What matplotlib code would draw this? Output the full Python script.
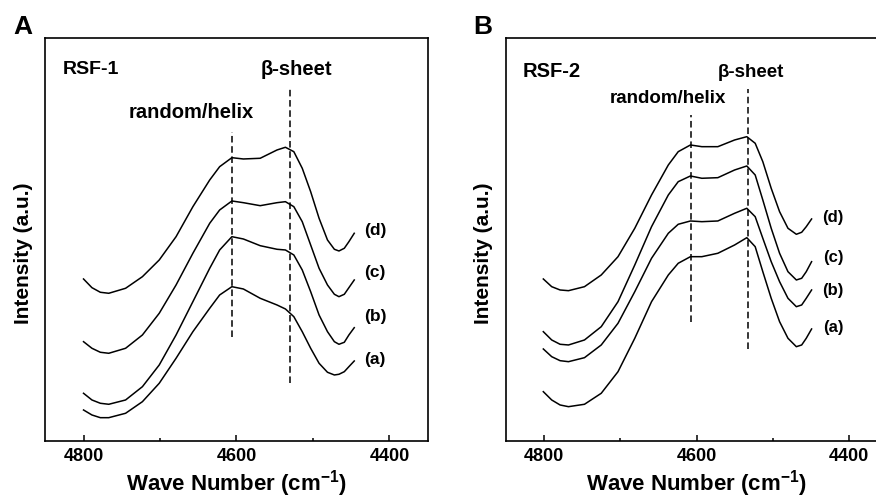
import matplotlib
matplotlib.use('Agg')
import matplotlib.pyplot as plt
from matplotlib.ticker import MultipleLocator

plt.rcParams['font.family'] = ['Liberation Sans', 'DejaVu Sans']
plt.rcParams['font.weight'] = 'bold'
plt.rcParams['mathtext.default'] = 'regular'

# wave numbers (cm-1) and intensities (a.u., offset curves)
wn_a = [4800, 4789, 4778, 4767, 4745, 4723, 4701, 4679, 4657, 4635, 4622, 4606, 4591,
        4569, 4547, 4536, 4525, 4514, 4503, 4492, 4481, 4472, 4466, 4459, 4453, 4446]
rsf1_a = [30.7, 25.7, 23, 23, 27.4, 39, 57.4, 82.4, 109, 132.4, 145.7, 154, 151.7,
          142.4, 135.7, 131.7, 124, 109, 92.4, 77.4, 68.4, 65.7, 66.4, 69, 74, 79.7]
rsf1_b = [47.4, 40.7, 37.4, 36.4, 40.7, 54, 75.7, 105.7, 139, 172.4, 190.7, 204, 201.7,
          195, 191.4, 190.7, 185.7, 170.7, 149, 125.7, 109, 99, 96.4, 98.4, 105.7, 113]
rsf1_c = [99, 92.4, 88.4, 87.4, 92.4, 105.7, 127.4, 155.7, 187.4, 217.4, 230.7, 239.7, 238,
          235, 238, 239, 234, 219, 195.7, 172.4, 155.7, 146.4, 144, 146.4, 153, 160.7]
rsf1_d = [161.7, 153, 148.4, 147.4, 152.4, 164, 180.7, 204, 234, 260.7, 274, 283, 281.7,
          282.4, 290.7, 293.4, 289, 272.4, 249, 222.4, 200.7, 191.4, 189.7, 192.4, 199, 207.4]

wn_b = [4801, 4790, 4779, 4768, 4747, 4725, 4703, 4681, 4659, 4637, 4624, 4608, 4593,
        4572, 4550, 4534, 4523, 4513, 4502, 4491, 4480, 4469, 4462, 4456, 4449]
rsf2_a = [49, 40.7, 35.7, 34, 36.4, 47.4, 69, 102.4, 139, 165.7, 177.4, 184, 184,
          187.4, 195.7, 203, 194, 169, 142.4, 119, 102.4, 94, 95.7, 102.4, 111.7]
rsf2_b = [91.7, 84, 80, 79, 83, 95.7, 117.4, 149, 182.4, 207.4, 216.4, 219.7, 219,
          219.7, 227.4, 232.4, 224, 202.4, 179, 159, 142.4, 134, 135.7, 142.4, 150.7]
rsf2_c = [109, 100.7, 96.4, 95.7, 100.7, 114, 139, 175.7, 214, 245.7, 259, 264.7, 262.4,
          263, 270.7, 274.7, 265.7, 240.7, 212.4, 187.4, 169, 160.7, 162.4, 169, 179]
rsf2_d = [161.7, 154, 150.7, 150, 154, 165.7, 184, 212.4, 245.7, 275.7, 289, 295.7, 294,
          294, 300.7, 304, 297.4, 279, 252.4, 229, 212.4, 206.4, 208.4, 214, 221.7]

curve_names = ['(a)', '(b)', '(c)', '(d)']

# marker lines: (wave number, y from, y to)
rsf1_helix = (4606, 103.7, 309)
rsf1_sheet = (4530, 58, 352.4)
rsf2_helix = (4607, 119, 325.7)
rsf2_sheet = (4533, 91.4, 351.4)

fig = plt.figure(figsize=(8.76, 5.03), dpi=100)
ax1 = fig.add_axes([0.0517, 0.1239, 0.4365, 0.80])
ax2 = fig.add_axes([0.5776, 0.1239, 0.435, 0.80])


def style_axis(ax):
    ax.set_xlim(4850, 4350)
    ax.set_ylim(0, 402.4)
    ax.set_yticks([])
    ax.xaxis.set_major_locator(MultipleLocator(200))
    ax.xaxis.set_minor_locator(MultipleLocator(100))
    ax.tick_params(axis='x', which='major', direction='in', length=4, width=1.1,
                   pad=5.5, labelsize=13, top=False)
    ax.tick_params(axis='x', which='minor', direction='in', length=2.2, width=1.1, top=False)
    for lbl in ax.get_xticklabels():
        lbl.set_fontweight('bold')
    for sp in ax.spines.values():
        sp.set_linewidth(1.2)
    ax.set_xlabel('Wave Number (cm$^{-1}$)', fontsize=16, fontweight='bold')
    ax.set_ylabel('Intensity (a.u.)', fontsize=15, fontweight='bold')
    ax.xaxis.set_label_coords(0.5, -0.068)


# panel A
for ys in [rsf1_a, rsf1_b, rsf1_c, rsf1_d]:
    ax1.plot(wn_a, ys, color='black', lw=1.1)
for wn, y0, y1 in [rsf1_helix, rsf1_sheet]:
    ax1.plot([wn, wn], [y0, y1], color='black', lw=1.1, ls=(0, (4.3, 2.4)))
style_axis(ax1)
ax1.yaxis.set_label_coords(-0.032, 0.4665)
for name, yy in zip(curve_names, [80.7, 124.2, 167.7, 209.7]):
    ax1.text(4418.6, yy, name, fontsize=12.5, fontweight='bold', ha='center', va='center')
ax1.text(4826.8, 366.7, 'RSF-1', fontsize=14, fontweight='bold', ha='left', va='baseline')
ax1.text(4522, 365.7, 'β-sheet', fontsize=14.5, fontweight='bold', ha='center', va='baseline')
ax1.text(4659, 322.4, 'random/helix', fontsize=14.5, fontweight='bold', ha='center', va='baseline')

# panel B
for ys in [rsf2_a, rsf2_b, rsf2_c, rsf2_d]:
    ax2.plot(wn_b, ys, color='black', lw=1.1)
for wn, y0, y1 in [rsf2_helix, rsf2_sheet]:
    ax2.plot([wn, wn], [y0, y1], color='black', lw=1.1, ls=(0, (4.3, 2.4)))
style_axis(ax2)
ax2.spines['right'].set_visible(False)
ax2.yaxis.set_label_coords(-0.033, 0.4665)
for name, yy in zip(curve_names, [113.2, 150.2, 183.2, 223.2]):
    ax2.text(4421, yy, name, fontsize=12, fontweight='bold', ha='center', va='center')
ax2.text(4827.6, 364, 'RSF-2', fontsize=14.5, fontweight='bold', ha='left', va='baseline')
ax2.text(4528.7, 364, 'β-sheet', fontsize=13.5, fontweight='bold', ha='center', va='baseline')
ax2.text(4638, 337.4, 'random/helix', fontsize=13.5, fontweight='bold', ha='center', va='baseline')

fig.text(22.5 / 876, 1 - 27.5 / 503, 'A', fontsize=19, fontweight='bold', ha='center', va='center')
fig.text(483 / 876, 1 - 27.5 / 503, 'B', fontsize=19, fontweight='bold', ha='center', va='center')

fig.savefig('out.png', dpi=100)
